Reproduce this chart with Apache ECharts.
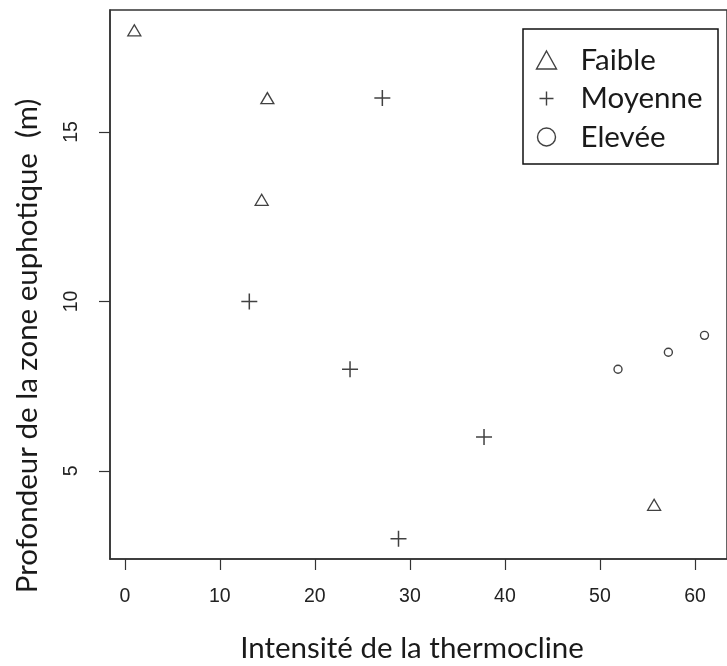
<!DOCTYPE html>
<html>
<head>
<meta charset="utf-8">
<script src="https://cdn.jsdelivr.net/npm/echarts@6/dist/echarts.min.js"></script>
<style>
html,body{margin:0;padding:0;background:#fff;}
#chart{width:727px;height:666px;}
</style>
</head>
<body>
<div id="chart"></div>
<script>
// ---- data ----
var seriesNames = ['Faible', 'Moyenne', 'Elevée'];
var faibleX = [1, 15, 14.4, 55.7];
var faibleY = [18, 16, 13, 4];
var moyenneX = [27.1, 13.1, 23.7, 37.8, 28.8];
var moyenneY = [16, 10, 8, 6, 3];
var eleveeX = [51.9, 57.2, 61];
var eleveeY = [8, 8.5, 9];
var xTicks = [0, 10, 20, 30, 40, 50, 60];
var yTicks = [5, 10, 15];
var xTitle = 'Intensité de la thermocline';
var yTitle = 'Profondeur de la zone euphotique  (m)';

function pairs(xs, ys) { return xs.map(function (x, i) { return [x, ys[i]]; }); }

var titleFont = '29.5px Lato, "Open Sans", sans-serif';
var plusPath = 'path://M0,8H16M8,0V16';
var legendPlus = 'path://M0,0M18,18M2,9H16M9,2V16';
var legendTri = 'path://M10,0L20,18L0,18Z';

var chart = echarts.init(document.getElementById('chart'), null, {renderer: 'canvas'});
chart.setOption({
  animation: false,
  backgroundColor: '#fff',
  grid: {left: 110, top: 10, width: 624, height: 549, show: true, borderColor: '#333', borderWidth: 1.5, containLabel: false},
  xAxis: {
    type: 'value', min: -1.56, max: 63.37,
    axisLine: {show: true, onZero: false, lineStyle: {color: '#333', width: 1.5}},
    axisTick: {show: true, length: 11, customValues: xTicks, lineStyle: {color: '#333', width: 1.2}},
    axisLabel: {customValues: xTicks, margin: 28, color: '#222', fontSize: 19.5, fontFamily: '"Liberation Sans", Arial, sans-serif'},
    splitLine: {show: false}
  },
  yAxis: {
    type: 'value', min: 2.4, max: 18.6,
    axisLine: {show: true, onZero: false, lineStyle: {color: '#333', width: 1.5}},
    axisTick: {show: true, length: 11, customValues: yTicks, lineStyle: {color: '#333', width: 1.2}},
    axisLabel: {customValues: yTicks, rotate: 90, margin: 28, color: '#222', fontSize: 19.5, fontFamily: '"Liberation Sans", Arial, sans-serif'},
    splitLine: {show: false}
  },
  legend: {
    orient: 'vertical', left: 523, top: 29,
    padding: [16, 10, 13, 11],
    itemWidth: 30, itemHeight: 18, itemGap: 8.5,
    selectedMode: false,
    textStyle: {fontSize: 29.5, lineHeight: 30, color: '#1a1a1a', fontFamily: 'Lato, "Open Sans", sans-serif', padding: [0, 0, 0, 14]},
    itemStyle: {color: 'none', borderColor: '#111', borderWidth: 1.4},
    data: [
      {name: seriesNames[0], icon: legendTri},
      {name: seriesNames[1], icon: legendPlus},
      {name: seriesNames[2], icon: 'circle'}
    ]
  },
  graphic: [
    {type: 'rect', shape: {x: 523, y: 29, width: 195, height: 135}, style: {fill: 'none', stroke: '#111', lineWidth: 1.5}, z: 100},
    {type: 'text', x: 412, y: 648, style: {text: xTitle, font: titleFont, fill: '#1a1a1a', align: 'center', verticalAlign: 'middle', textAlign: 'center', textVerticalAlign: 'middle'}},
    {type: 'text', x: 27, y: 346, rotation: Math.PI / 2, style: {text: yTitle, font: titleFont, fill: '#1a1a1a', align: 'center', verticalAlign: 'middle', textAlign: 'center', textVerticalAlign: 'middle'}}
  ],
  series: [
    {name: seriesNames[0], type: 'scatter', symbol: 'triangle', symbolSize: [13, 11],
     itemStyle: {color: 'none', borderColor: '#111', borderWidth: 1.3}, data: pairs(faibleX, faibleY)},
    {name: seriesNames[1], type: 'scatter', symbol: plusPath, symbolSize: 16,
     itemStyle: {color: 'none', borderColor: '#111', borderWidth: 1.5}, data: pairs(moyenneX, moyenneY)},
    {name: seriesNames[2], type: 'scatter', symbol: 'circle', symbolSize: 8,
     itemStyle: {color: 'none', borderColor: '#111', borderWidth: 1.4}, data: pairs(eleveeX, eleveeY)}
  ]
});
</script>
</body>
</html>
